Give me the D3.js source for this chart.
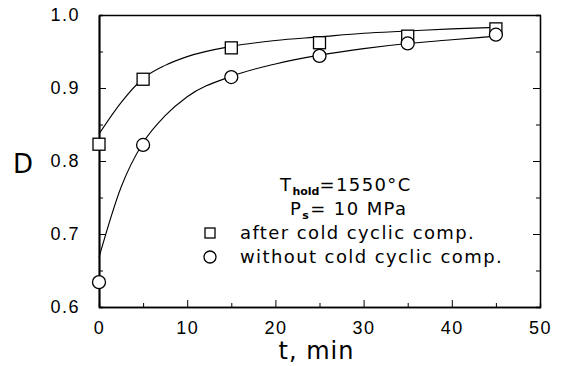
<!DOCTYPE html>
<meta charset="utf-8">
<style>
    body { margin: 0; background: #fff; }
    svg { font-family: "DejaVu Sans", sans-serif; }
    .axis path, .axis line { stroke: #000; }
    .axis text { font-size: 18px; fill: #000; letter-spacing: 1.5px; }
    .fit { fill: none; stroke: #000; stroke-width: 1.1; }
    .mark { fill: #fff; stroke: #000; stroke-width: 1.3; }
    .note { font-size: 18px; fill: #000; letter-spacing: 1.4px; }
</style>
<body>
<svg width="568" height="366"></svg>
</body>
<script src="https://cdn.jsdelivr.net/npm/d3@7"></script>
<script>

    // measured points
    var times = [0, 5, 15, 25, 35, 45];
    var afterComp = [0.823, 0.912, 0.955, 0.962, 0.971, 0.981];
    var withoutComp = [0.634, 0.822, 0.915, 0.944, 0.961, 0.973];

    // fitted curves
    var fitTimes = [0, 2.5, 5, 7.5, 10, 15, 20, 25, 30, 35, 40, 45];
    var afterFit = [0.837, 0.880, 0.913, 0.931, 0.943, 0.957, 0.965, 0.970, 0.975, 0.978, 0.981, 0.983];
    var withoutFit = [0.668, 0.764, 0.825, 0.862, 0.888, 0.916, 0.933, 0.945, 0.954, 0.961, 0.966, 0.971];

    var xTicks = [0, 10, 20, 30, 40, 50];
    var yTicks = [0.6, 0.7, 0.8, 0.9, 1.0];

    var svg = d3.select("svg"),
        pL = 99, pR = 540, pT = 15, pB = 307;

    var x = d3.scaleLinear().domain([0, 50]).range([pL, pR]);
    var y = d3.scaleLinear().domain([0.6, 1.0]).range([pB, pT]);

    var fmt = d3.format(".1f");

    // minor ticks
    svg.append("g").attr("class", "axis")
        .attr("transform", "translate(0," + pB + ")")
        .call(d3.axisBottom(x).tickValues(d3.range(5, 50, 10)).tickSize(-4).tickFormat(""));
    svg.append("g").attr("class", "axis")
        .attr("transform", "translate(" + pL + ",0)")
        .call(d3.axisLeft(y).tickValues([0.65, 0.75, 0.85, 0.95]).tickSize(-4).tickFormat(""));
    svg.append("g").attr("class", "axis")
        .attr("transform", "translate(" + pR + ",0)")
        .call(d3.axisRight(y).tickValues([0.65, 0.75, 0.85, 0.95]).tickSize(-4).tickFormat(""));

    // major ticks + labels
    svg.append("g").attr("class", "axis")
        .attr("transform", "translate(0," + pB + ")")
        .call(d3.axisBottom(x).tickValues(xTicks).tickSizeInner(-7).tickSizeOuter(0).tickPadding(14));
    var yAxis = svg.append("g").attr("class", "axis")
        .attr("transform", "translate(" + pL + ",0)")
        .call(d3.axisLeft(y).tickValues(yTicks).tickSizeInner(-7).tickSizeOuter(0).tickPadding(19).tickFormat(fmt));
    svg.append("g").attr("class", "axis")
        .attr("transform", "translate(" + pR + ",0)")
        .call(d3.axisRight(y).tickValues(yTicks).tickSizeInner(-7).tickSizeOuter(0).tickFormat(""));
    svg.append("g").attr("class", "axis")
        .attr("transform", "translate(0," + pT + ")")
        .call(d3.axisTop(x).tickValues(xTicks).tickSizeInner(0).tickSizeOuter(0).tickFormat(""));

    svg.selectAll(".axis path").attr("stroke-width", 1.3);
    yAxis.select("path").attr("stroke-width", 2);

    // axis titles
    svg.append("text")
        .attr("x", (pL + pR) / 2 - 3)
        .attr("y", 359)
        .attr("text-anchor", "middle")
        .style("font-size", "24px")
        .style("letter-spacing", "1px")
        .text("t, min");
    svg.append("text")
        .attr("x", 13)
        .attr("y", 173)
        .style("font-size", "26px")
        .text("D");

    // curves
    var line = d3.line()
        .x(function (d) { return x(d[0]); })
        .y(function (d) { return y(d[1]); })
        .curve(d3.curveMonotoneX);

    svg.append("path").attr("class", "fit")
        .attr("d", line(d3.zip(fitTimes, afterFit)));
    svg.append("path").attr("class", "fit")
        .attr("d", line(d3.zip(fitTimes, withoutFit)));

    // symbols
    svg.selectAll(".sq")
        .data(d3.zip(times, afterComp))
        .enter().append("rect")
        .attr("class", "mark")
        .attr("x", function (d) { return x(d[0]) - 6; })
        .attr("y", function (d) { return y(d[1]) - 6; })
        .attr("width", 12)
        .attr("height", 12);

    svg.selectAll(".ci")
        .data(d3.zip(times, withoutComp))
        .enter().append("circle")
        .attr("class", "mark")
        .attr("cx", function (d) { return x(d[0]); })
        .attr("cy", function (d) { return y(d[1]); })
        .attr("r", 6.5);

    // annotation
    var t1 = svg.append("text").attr("class", "note").attr("x", 280).attr("y", 191);
    t1.append("tspan").text("T");
    t1.append("tspan").attr("dy", 4).style("font-size", "11px").style("font-weight", "bold").style("letter-spacing", "0px").text("hold");
    t1.append("tspan").attr("dy", -4).text("=1550°C");

    var t2 = svg.append("text").attr("class", "note").attr("x", 290).attr("y", 215);
    t2.append("tspan").text("P");
    t2.append("tspan").attr("dy", 4).style("font-size", "11px").style("font-weight", "bold").text("s");
    t2.append("tspan").attr("dy", -4).text("= 10 MPa");

    svg.append("rect").attr("class", "mark")
        .attr("x", 205).attr("y", 228).attr("width", 10).attr("height", 10);
    svg.append("text").attr("class", "note").attr("x", 240).attr("y", 239)
        .text("after cold cyclic comp.");

    svg.append("circle").attr("class", "mark")
        .attr("cx", 210).attr("cy", 257).attr("r", 6);
    svg.append("text").attr("class", "note").attr("x", 240).attr("y", 263)
        .text("without cold cyclic comp.");

</script>
